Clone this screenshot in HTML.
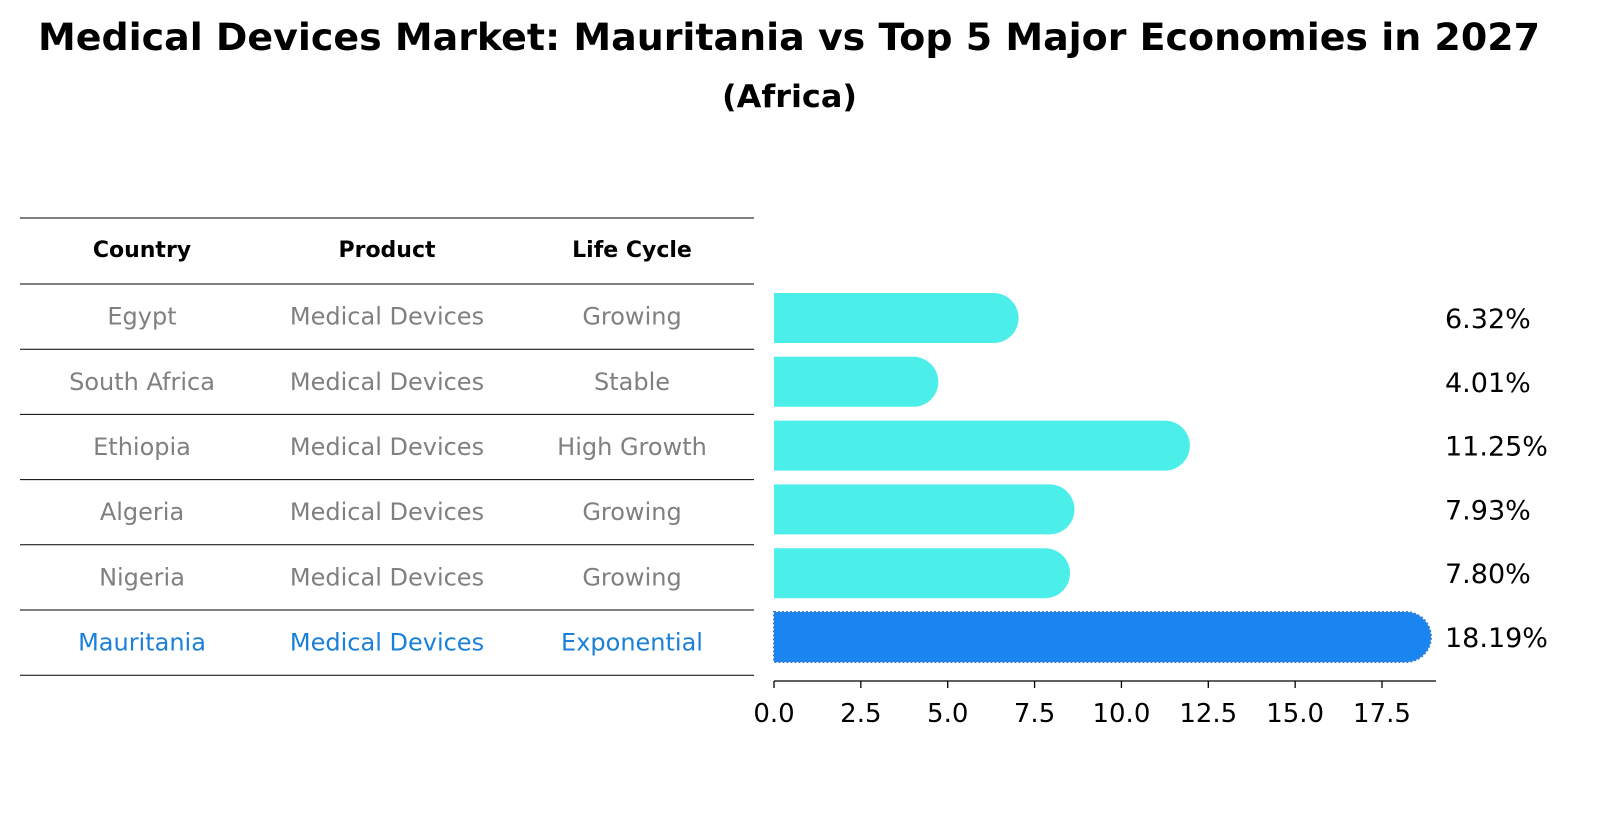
<!DOCTYPE html>
<html><head><meta charset="utf-8">
<style>
html,body{margin:0;padding:0;background:#fff;overflow:hidden;width:1604px;height:823px;}
svg{display:block;}
svg text{font-family:"DejaVu Sans","Liberation Sans",sans-serif;}
</style></head>
<body>
<svg width="1604" height="823" viewBox="0 0 1604 823" xmlns="http://www.w3.org/2000/svg">
<text x="38" y="50" font-size="37" font-weight="bold" textLength="1502" lengthAdjust="spacingAndGlyphs">Medical Devices Market: Mauritania vs Top 5 Major Economies in 2027</text>
<text x="722" y="107" font-size="31" font-weight="bold" textLength="135" lengthAdjust="spacingAndGlyphs">(Africa)</text>
<g id="table"></g>
<g id="bars"></g>
</svg>
<script>
const countries=["Egypt","South Africa","Ethiopia","Algeria","Nigeria","Mauritania"];
const products=["Medical Devices","Medical Devices","Medical Devices","Medical Devices","Medical Devices","Medical Devices"];
const lifeCycles=["Growing","Stable","High Growth","Growing","Growing","Exponential"];
const values=[6.32,4.01,11.25,7.93,7.80,18.19];
const ticks=[0.0,2.5,5.0,7.5,10.0,12.5,15.0,17.5];
const NS="http://www.w3.org/2000/svg";
function mk(tag,attrs,parent,text){const e=document.createElementNS(NS,tag);for(const k in attrs)e.setAttribute(k,attrs[k]);if(text!==undefined)e.textContent=text;parent.appendChild(e);return e;}
const x0=774,scale=608/17.5;
const xs=v=>x0+v*scale;
const rowTop=i=>284+i*65.2;
const tbl=document.getElementById('table');
const colX=[142,387,632];
const lineYs=[218,284];for(let i=1;i<=6;i++)lineYs.push(284+i*65.2);
lineYs.forEach((y,i)=>{const l=mk('line',{x1:20,x2:754,y1:y,y2:y,stroke:'#000','stroke-width':1},tbl);

});
["Country","Product","Life Cycle"].forEach((h,j)=>{const t=mk('text',{x:colX[j],y:257,'text-anchor':'middle','font-size':22,'font-weight':'bold'},tbl,h);

});
countries.forEach((c,i)=>{const col=i===5?'#1a80d9':'#808080';const y=rowTop(i)+32.6+8;
[c,products[i],lifeCycles[i]].forEach((s,j)=>{const t=mk('text',{x:colX[j],y:y,'text-anchor':'middle','font-size':24,fill:col},tbl,s);

});});
const bars=document.getElementById('bars');
const bh=50,r=25;
values.forEach((v,i)=>{const cy=318+i*63.8;const top=cy-bh/2;const xe=xs(v);
const col=i===5?'#1a85f0':'#4ceeea';
const p=mk('path',{d:`M${x0},${top} H${xe} A${r},${r} 0 0 1 ${xe},${top+bh} H${x0} Z`,fill:col},bars);


if(i===5){const d=mk('path',{d:`M${x0},${top} H${xe} A${r},${r} 0 0 1 ${xe},${top+bh} H${x0} Z`,fill:'none',stroke:'#3a7fd0','stroke-width':2,'stroke-dasharray':'2,2'},bars);

}
const t=mk('text',{x:1445,y:cy+10,'font-size':27},bars,v.toFixed(2)+'%');

});
const ax=mk('line',{x1:x0,x2:1436,y1:681,y2:681,stroke:'#000','stroke-width':1.3},bars);


ticks.forEach(tv=>{const x=xs(tv);const tk=mk('line',{x1:x,x2:x,y1:681,y2:688,stroke:'#000','stroke-width':1.3},bars);


const t=mk('text',{x:x,y:722,'text-anchor':'middle','font-size':26},bars,tv.toFixed(1));

});
</script>
</body></html>
